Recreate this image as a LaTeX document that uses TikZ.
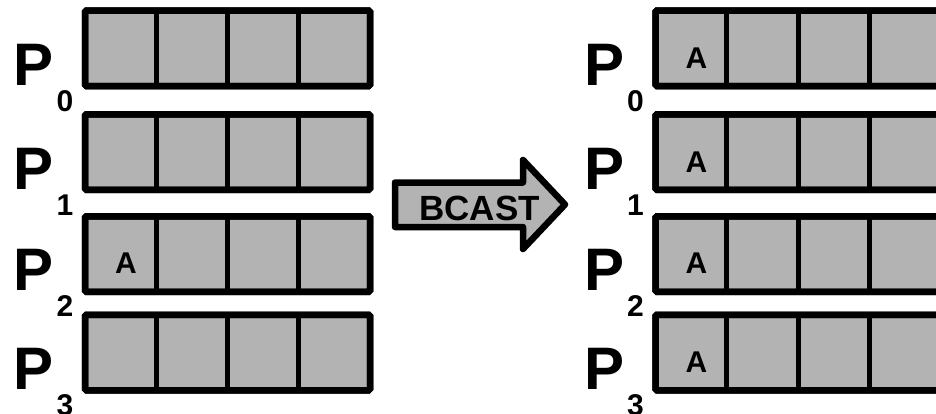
\documentclass[tikz,border=0pt]{standalone}
\usepackage{fontspec}
\setmainfont{Liberation Sans}
\definecolor{cellgray}{HTML}{B3B3B3}
\begin{document}
\begin{tikzpicture}[x=1pt,y=-1pt,
  rowbox/.style={draw=black, fill=cellgray, line width=6.5pt, rounded corners=1.5pt,
    minimum width=285pt, minimum height=75.5pt, inner sep=0pt, outer sep=0pt},
  divider/.style={draw=black, line width=5pt},
  plabel/.style={anchor=base west, inner sep=0pt, font=\fontsize{60}{60}\selectfont\bfseries},
  sublabel/.style={anchor=base west, inner sep=0pt, font=\fontsize{30}{30}\selectfont\bfseries},
  celltext/.style={anchor=base, inner sep=0pt, font=\fontsize{30}{30}\selectfont\bfseries},
  bigarrow/.style={draw=black, fill=cellgray, line width=6.5pt, line join=round},
  arrowtext/.style={anchor=base, inner sep=0pt, font=\fontsize{35}{35}\selectfont\bfseries}]
\useasboundingbox (0,0) rectangle (936,413);

% four processes before (left) and after (right) the broadcast
\foreach \i/\t/\b in {0/10.5/86, 1/114/190, 2/216.5/291.5, 3/315/390}{
  % left buffers
  \node[rowbox] (L\i) at (227.5,{(\t+\b)/2}) {};
  \foreach \k in {1,2,3}
    \draw[divider] ({85+71.25*\k},\t) -- ({85+71.25*\k},\b);
  \draw[black, line width=6.5pt, rounded corners=1.5pt] (L\i.north west) rectangle (L\i.south east);
  \node[plabel] (LP\i) at (13.5,{\b-1}) {P};
  \node[sublabel] (LS\i) at (56.5,{\b+25}) {\i};
  % right buffers
  \node[rowbox] (R\i) at (798,{(\t+\b)/2}) {};
  \foreach \k in {1,2,3}
    \draw[divider] ({655.5+71.25*\k},\t) -- ({655.5+71.25*\k},\b);
  \draw[black, line width=6.5pt, rounded corners=1.5pt] (R\i.north west) rectangle (R\i.south east);
  \node[plabel] (RP\i) at (584,{\b-1}) {P};
  \node[sublabel] (RS\i) at (627,{\b+25}) {\i};
  \node[celltext] (RA\i) at (696.5,{\b-18}) {A};
}
% root buffer holds the value
\node[celltext] (LA2) at (126,273.5) {A};

% broadcast arrow
\draw[bigarrow] (395,182.5) -- (523,182.5) -- (523,160) -- (565,204.5)
  -- (523,249) -- (523,227) -- (395,227) -- cycle;
\node[arrowtext] (bcast) at (479.5,220) {BCAST};
\end{tikzpicture}
\end{document}
